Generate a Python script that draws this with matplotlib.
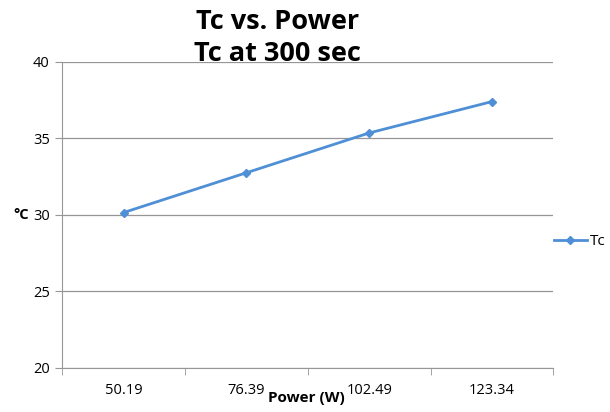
import numpy as np
import matplotlib
matplotlib.use("Agg")
from matplotlib import pyplot as plt
from matplotlib.lines import Line2D

power_labels = ["50.19", "76.39", "102.49", "123.34"]
tc_values = [30.15, 32.75, 35.35, 37.4]

plt.rcParams['font.family'] = ['Open Sans', 'DejaVu Sans']

fig = plt.figure(figsize=(6.1, 4.12), dpi=100)
ax = fig.add_axes([0.102, 0.107, 0.805, 0.743])

x = np.arange(len(power_labels))
color = "#4F8FD6"
ax.plot(x, tc_values, color=color, lw=2, marker="D", markersize=4.5, label="Tc")

ax.set_xlim(-0.5, len(power_labels) - 0.5)
ax.set_ylim(20, 40)
ax.set_yticks([20, 25, 30, 35, 40])
ax.yaxis.grid(True, color="#969696", lw=0.9)
ax.set_axisbelow(True)

ax.set_xticks(x)
ax.set_xticklabels(power_labels, fontsize=10.5)
ax.tick_params(axis="x", which="major", length=0, pad=11)
ax.set_xticks(np.arange(-0.5, len(power_labels)), minor=True)
ax.tick_params(axis="x", which="minor", length=5, color="#969696")
ax.tick_params(axis="y", length=5, color="#969696", labelsize=10.5, pad=4)

for s in ["top", "right"]:
    ax.spines[s].set_visible(False)
for s in ["left", "bottom"]:
    ax.spines[s].set_color("#969696")

fig.text(0.455, 0.978, "Tc vs. Power\nTc at 300 sec", ha="center", va="top",
         fontsize=19.5, fontweight="bold", linespacing=1.3)
fig.text(0.503, 0.018, "Power (W)", ha="center", va="bottom", fontsize=11, fontweight="bold")
fig.text(0.022, 0.478, "°C", ha="left", va="center", fontsize=10.5, fontweight="bold")

handles = [Line2D([0], [0], color=color, lw=2, marker="D", markersize=4.5, label="Tc")]
fig.legend(handles=handles, loc="center left", bbox_to_anchor=(0.885, 0.413), frameon=False,
           fontsize=11, handlelength=2.2, handletextpad=0.2)

fig.savefig("out.png", dpi=100)
